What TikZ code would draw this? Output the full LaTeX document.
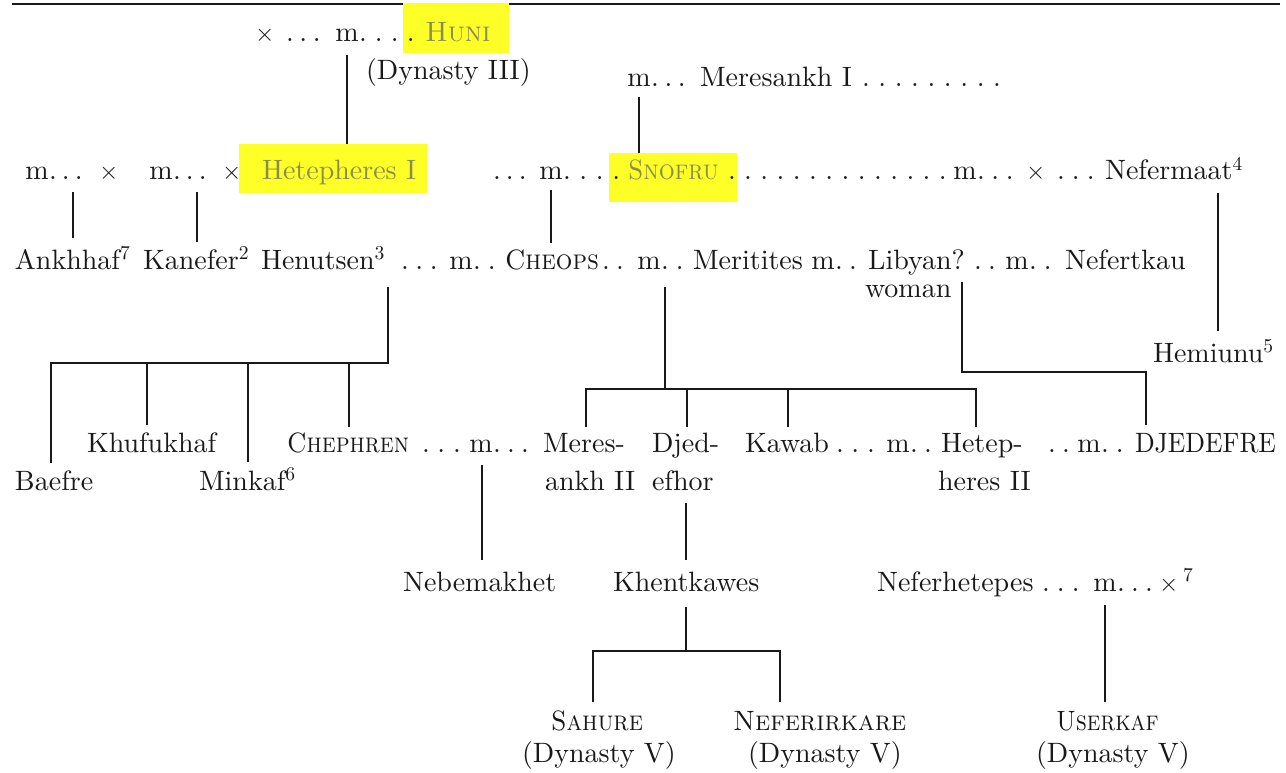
\documentclass[tikz,border=0pt]{standalone}
\usepackage{graphicx}
\usepackage{fontspec}
\setmainfont{lmroman10-regular.otf}[SmallCapsFont=lmromancaps10-regular.otf]
\usetikzlibrary{calc}
\newcommand\lead[2]{\foreach \k in {1,...,#1}{.\hspace*{\dimexpr #2pt-0.278em\relax}}}
\newcommand\scn[2]{\scalebox{#1}[1]{\textsc{#2}}}
\definecolor{hlyellow}{RGB}{255,255,40}
\definecolor{hltext}{RGB}{140,140,80}
\definecolor{ink}{RGB}{25,25,25}
\begin{document}
\begin{tikzpicture}[x=1pt,y=-1pt,
  txt/.style={font=\fontsize{28}{33}\selectfont, inner sep=0pt, outer sep=0pt, anchor=base west, text=ink},
  mk/.style={txt, anchor=base},
  hl/.style={fill=hlyellow, draw=none, inner sep=0pt},
  hlt/.style={txt, text=hltext},
  conn/.style={draw=ink, line width=1.7pt},
  toprule/.style={draw=ink, line width=2.4pt}]
\useasboundingbox (0,0) rectangle (1286,773);
\draw[toprule] (12,4) -- (1280,4);
% highlight boxes
\node[hl, minimum width=106pt, minimum height=50pt] (huniBox) at (456,28) {};
\node[hl, minimum width=188pt, minimum height=49pt] (hetIBox) at (333,168.5) {};
\node[hl, minimum width=128pt, minimum height=49pt] (snofruBox) at (673,177.5) {};
% row 0
\node[txt] (r0x) at (255,42) {$\times$};
\node[txt] (r0d1) at (286,42) {\lead{3}{13.5}};
\node[mk] (huniM) at (347,42) {m};
\node[txt] (r0d2) at (359,42) {\lead{4}{16}};
\node[hlt] (huni) at (425,42) {\textsc{Huni}};
\node[txt] (dyn3) at (366,80) {(Dynasty III)};
\node[mk] (merM) at (639,87) {m};
\node[txt] (r0bd1) at (651,87) {\lead{3}{13.5}};
\node[txt] (meres1) at (700,87) {Meresankh I};
\node[txt] (r0bd2) at (862,87) {\lead{9}{16.4}};
% row 1
\node[mk] (r1m1) at (37,180) {m};
\node[txt] (r1d1) at (49,180) {\lead{3}{13}};
\node[txt] (r1x1) at (99,180) {$\times$};
\node[mk] (r1m2) at (161,180) {m};
\node[txt] (r1d2) at (173,180) {\lead{3}{13}};
\node[txt] (r1x2) at (222,180) {$\times$};
\node[hlt] (hetI) at (262,180) {Hetepheres I};
\node[txt] (r1d3) at (493,180) {\lead{3}{13}};
\node[mk] (snofruM) at (551,180) {m};
\node[txt] (r1d4) at (563,180) {\lead{4}{16.5}};
\node[hlt] (snofru) at (628,180) {\scn{0.9}{Snofru}};
\node[txt] (r1d5) at (728,180) {\lead{14}{16.23}};
\node[mk] (r1m3) at (965,180) {m};
\node[txt] (r1d6) at (977,180) {\lead{3}{14.5}};
\node[txt] (r1x3) at (1026,180) {$\times$};
\node[txt] (r1d7) at (1057,180) {\lead{3}{15}};
\node[txt] (neferm) at (1105,180) {Nefermaat\textsuperscript{4}};
% row 2
\node[txt] (ankh) at (15,269) {Ankhhaf\textsuperscript{7}};
\node[txt] (kanef) at (143,269) {Kanefer\textsuperscript{2}};
\node[txt] (henu) at (261,269) {Henutsen\textsuperscript{3}};
\node[txt] (r2d1) at (401,269) {\lead{3}{14.5}};
\node[mk] (r2m1) at (461,269) {m};
\node[txt] (r2d2) at (473,269) {\lead{2}{15}};
\node[txt] (cheops) at (505,269) {\scn{0.93}{Cheops}};
\node[txt] (r2d3) at (602,269) {\lead{2}{14}};
\node[mk] (r2m2) at (649,269) {m};
\node[txt] (r2d4) at (661,269) {\lead{2}{15}};
\node[txt] (merit) at (693,269) {Meritites};
\node[mk] (r2m3) at (823,269) {m};
\node[txt] (r2d5) at (835,269) {\lead{2}{14}};
\node[txt] (libyan) at (868,269) {Libyan?};
\node[txt] (woman) at (865,297) {woman};
\node[txt] (r2d6) at (974,269) {\lead{2}{14}};
\node[mk] (r2m4) at (1017,269) {m};
\node[txt] (r2d7) at (1029,269) {\lead{2}{15}};
\node[txt] (nefertkau) at (1065,269) {Nefertkau};
\node[txt] (hemiunu) at (1153,362) {Hemiunu\textsuperscript{5}};
% row 3
\node[txt] (khufu) at (87,452) {Khufukhaf};
\node[txt] (chephren) at (287,452) {\scn{0.89}{Chephren}};
\node[txt] (r3d1) at (422,452) {\lead{3}{15.5}};
\node[mk] (r3m1) at (481,452) {m};
\node[txt] (r3d2) at (493,452) {\lead{3}{14}};
\node[txt] (meres2a) at (543,452) {Meres-};
\node[txt] (meres2b) at (545,490) {ankh II};
\node[txt] (djeda) at (652,452) {Djed-};
\node[txt] (djedb) at (652,490) {efhor};
\node[txt] (kawab) at (745,452) {Kawab};
\node[txt] (r3d3) at (836,452) {\lead{3}{15.5}};
\node[mk] (r3m2) at (898,452) {m};
\node[txt] (r3d4) at (910,452) {\lead{2}{14}};
\node[txt] (hetepa) at (941,452) {Hetep-};
\node[txt] (hetepb) at (938,490) {heres II};
\node[txt] (r3d5) at (1048,452) {\lead{2}{14}};
\node[mk] (r3m3) at (1089,452) {m};
\node[txt] (r3d6) at (1101,452) {\lead{2}{15}};
\node[txt] (djedefre) at (1135,452) {\scalebox{0.92}[1]{DJEDEFRE}};
\node[txt] (baefre) at (15,490) {Baefre};
\node[txt] (minkaf) at (199,490) {Minkaf\textsuperscript{6}};
% row 4
\node[txt] (nebem) at (403,591) {Nebemakhet};
\node[txt] (khent) at (613,591) {Khentkawes};
\node[txt] (neferh) at (877,591) {Neferhetepes};
\node[txt] (r4d1) at (1042,591) {\lead{3}{15}};
\node[mk] (r4m) at (1105,591) {m};
\node[txt] (r4d2) at (1117,591) {\lead{3}{14}};
\node[txt] (r4x) at (1159,591) {$\times$\,\textsuperscript{7}};
% row 5
\node[txt] (sahure) at (551,730) {\scn{0.91}{Sahure}};
\node[txt] (neferirk) at (733,730) {\scn{0.97}{Neferirkare}};
\node[txt] (userkaf) at (1056,730) {\scn{0.87}{Userkaf}};
\node[txt] (dyn5a) at (522,762) {(Dynasty V)};
\node[txt] (dyn5b) at (748,762) {(Dynasty V)};
\node[txt] (dyn5c) at (1036,762) {(Dynasty V)};
% connectors
\draw[conn] ($(huniM.base)+(0,13)$) -- (huniM.base |- hetIBox.north);
\draw[conn] ($(merM.base)+(0,10)$) -- (merM.base |- snofruBox.north);
\draw[conn] ($(ankh.base west)+(58,-77)$) -- ($(ankh.base west)+(58,-31)$);
\draw[conn] ($(kanef.base west)+(54,-77)$) -- ($(kanef.base west)+(54,-27)$);
\draw[conn] ($(snofruM.base)+(0,10)$) -- ($(cheops.base west)+(46,-26)$);
\draw[conn] ($(neferm.base west)+(113,13)$) -- ($(hemiunu.base west)+(65,-31)$);
% Henutsen's children
\draw[conn] ($(henu.base west)+(127,18)$) -- ($(henu.base west)+(127,94)$)
  -- ($(baefre.base west)+(36,-127)$) -- ($(baefre.base west)+(36,-27)$);
\draw[conn] ($(khufu.base west)+(60,-89)$) -- ($(khufu.base west)+(60,-27)$);
\draw[conn] ($(minkaf.base west)+(49,-127)$) -- ($(minkaf.base west)+(49,-28)$);
\draw[conn] ($(chephren.base west)+(62,-89)$) -- ($(chephren.base west)+(62,-25)$);
% Cheops & Meritites' children
\draw[conn] ($(r2m2.base)+(16,18)$) -- ($(r2m2.base)+(16,120)$);
\draw[conn] ($(meres2a.base west)+(43,-25)$) -- ($(meres2a.base west)+(43,-63)$)
  -- ($(hetepa.base west)+(35,-63)$) -- ($(hetepa.base west)+(35,-25)$);
\draw[conn] ($(djeda.base west)+(35,-63)$) -- ($(djeda.base west)+(35,-25)$);
\draw[conn] ($(kawab.base west)+(43,-63)$) -- ($(kawab.base west)+(43,-25)$);
% Libyan woman -> Djedefre
\draw[conn] ($(libyan.base west)+(94,13)$) -- ($(libyan.base west)+(94,103)$)
  -| ($(djedefre.base west)+(11,-27)$);
% lower generations
\draw[conn] ($(r3m1.base)+(1,13)$) -- ($(nebem.base west)+(79,-31)$);
\draw[conn] ($(djedb.base west)+(34,13)$) -- ($(khent.base west)+(73,-31)$);
\draw[conn] ($(khent.base west)+(73,16)$) -- ($(khent.base west)+(73,60)$);
\draw[conn] ($(sahure.base west)+(42,-28)$) -- ($(sahure.base west)+(42,-79)$)
  -- ($(neferirk.base west)+(47,-79)$) -- ($(neferirk.base west)+(47,-28)$);
\draw[conn] ($(r4m.base)+(0,14)$) -- ($(userkaf.base west)+(49,-28)$);
\end{tikzpicture}
\end{document}
